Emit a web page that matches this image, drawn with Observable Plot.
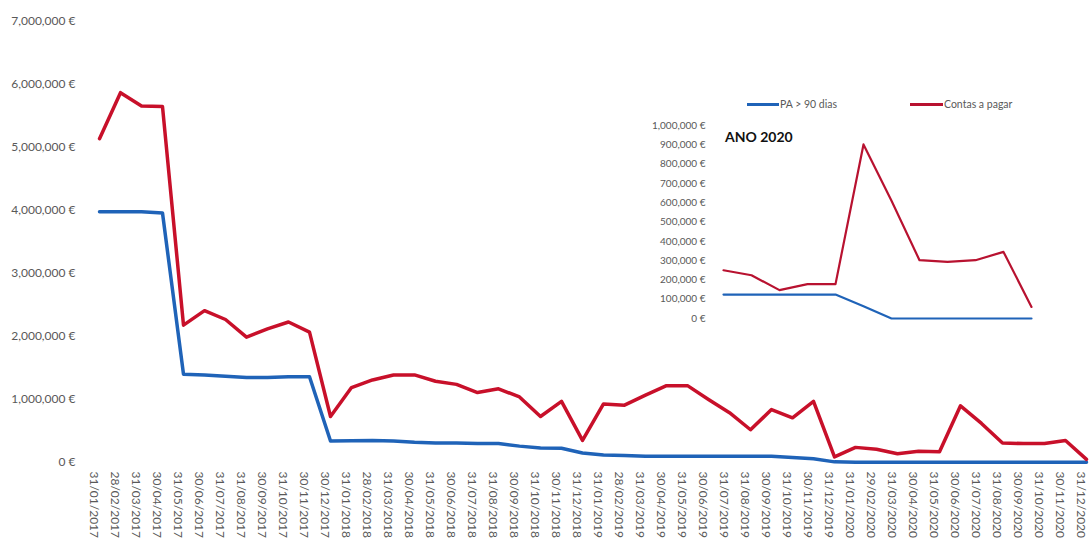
<!DOCTYPE html>
<html>
<head>
<meta charset="utf-8">
<script src="https://cdn.jsdelivr.net/npm/d3@7"></script>
<script src="https://cdn.jsdelivr.net/npm/@observablehq/plot@0.6"></script>
<style>
  html, body { margin: 0; padding: 0; background: #fff; }
  #wrap { position: relative; width: 1091px; height: 540px; overflow: hidden; font-family: Lato, sans-serif; }
  #main { position: absolute; left: 0; top: 0; }
  #inset { position: absolute; left: 640px; top: 80px; }
  .leg { position: absolute; font-size: 10.5px; color: #595959; white-space: nowrap; line-height: 12px; }
  .sw { position: absolute; height: 3px; }
  #title { position: absolute; left: 725px; top: 128px; font-weight: bold; font-size: 14px; color: #111; line-height: 17px; }
</style>
</head>
<body>
<div id="wrap">
  <div id="main"></div>
  <div id="inset"></div>
  <div class="sw" style="left:747px;top:103px;width:32px;background:#1f63b8"></div>
  <div class="leg" style="left:780px;top:98px">PA &gt; 90 dias</div>
  <div class="sw" style="left:910px;top:103px;width:33px;background:#b81230"></div>
  <div class="leg" style="left:944px;top:98px">Contas a pagar</div>
  <div id="title">ANO 2020</div>
</div>
<script>
const dates = [
  "31/01/2017","28/02/2017","31/03/2017","30/04/2017","31/05/2017","30/06/2017",
  "31/07/2017","31/08/2017","30/09/2017","31/10/2017","30/11/2017","30/12/2017",
  "31/01/2018","28/02/2018","31/03/2018","30/04/2018","31/05/2018","30/06/2018",
  "31/07/2018","31/08/2018","30/09/2018","31/10/2018","30/11/2018","31/12/2018",
  "31/01/2019","28/02/2019","31/03/2019","30/04/2019","31/05/2019","30/06/2019",
  "31/07/2019","31/08/2019","30/09/2019","31/10/2019","30/11/2019","31/12/2019",
  "31/01/2020","29/02/2020","31/03/2020","30/04/2020","31/05/2020","30/06/2020",
  "31/07/2020","31/08/2020","30/09/2020","31/10/2020","30/11/2020","31/12/2020"
];
const seriesNames = ["PA > 90 dias", "Contas a pagar"];
const paMais90 = [
  3980000,3980000,3980000,3960000,1400000,1390000,1370000,1350000,1350000,1360000,1360000,340000,
  345000,350000,340000,320000,310000,310000,300000,300000,260000,230000,225000,150000,
  120000,110000,100000,100000,100000,100000,100000,100000,100000,80000,60000,10000,
  5000,5000,5000,5000,5000,5000,5000,5000,5000,5000,5000,5000
];
const contasPagar = [
  5140000,5870000,5660000,5650000,2180000,2410000,2270000,1990000,2120000,2230000,2070000,730000,
  1190000,1310000,1390000,1390000,1290000,1240000,1110000,1170000,1040000,730000,970000,350000,
  930000,910000,1070000,1220000,1220000,1000000,790000,520000,840000,710000,970000,90000,
  240000,210000,140000,180000,170000,900000,620000,310000,300000,300000,350000,50000
];
const yTicks = [0,1000000,2000000,3000000,4000000,5000000,6000000,7000000];

const insetMonths = ["Jan","Fev","Mar","Abr","Mai","Jun","Jul","Ago","Set","Out","Nov","Dez"];
const insetPA = [124000,124000,124000,124000,124000,64000,0,0,0,0,0,0];
const insetContas = [250000,224000,147000,178000,178000,902000,610000,302000,293000,302000,345000,60000];
const insetTicks = [0,100000,200000,300000,400000,500000,600000,700000,800000,900000,1000000];

const eur = d => d3.format(",")(d) + " €";
const blue = "#1f63b8", red = "#c8102a", redInset = "#b81230";

const rows = dates.map((d, i) => ({date: d, pa: paMais90[i], contas: contasPagar[i]}));
const insetRows = insetMonths.map((m, i) => ({m, pa: insetPA[i], contas: insetContas[i]}));

const main = Plot.plot({
  width: 1091, height: 540,
  marginTop: 21, marginBottom: 78, marginLeft: 96, marginRight: 3,
  style: {fontFamily: "Lato, sans-serif", fontSize: "12px", color: "#595959", background: "transparent", overflow: "visible"},
  x: {type: "point", domain: dates, padding: 0, label: null},
  y: {domain: [0, 7000000], label: null},
  marks: [
    Plot.axisY({ticks: yTicks, tickSize: 0, tickPadding: 21, tickFormat: eur, label: null}),
    Plot.axisX({tickSize: 0, tickRotate: 90, tickPadding: 9, label: null, dx: -6}),
    Plot.line(rows, {x: "date", y: "pa", stroke: blue, strokeWidth: 3.5, title: () => seriesNames[0]}),
    Plot.line(rows, {x: "date", y: "contas", stroke: red, strokeWidth: 3.5, title: () => seriesNames[1]})
  ]
});
document.getElementById("main").appendChild(main);

const inset = Plot.plot({
  width: 451, height: 260,
  marginTop: 45, marginBottom: 22, marginLeft: 82, marginRight: 59,
  style: {fontFamily: "Lato, sans-serif", fontSize: "10px", color: "#595959", background: "transparent"},
  x: {type: "point", domain: insetMonths, padding: 0, axis: null},
  y: {domain: [0, 1000000], label: null},
  marks: [
    Plot.axisY({ticks: insetTicks, tickSize: 0, tickPadding: 17, tickFormat: eur, label: null}),
    Plot.line(insetRows, {x: "m", y: "pa", stroke: blue, strokeWidth: 2.2}),
    Plot.line(insetRows, {x: "m", y: "contas", stroke: redInset, strokeWidth: 2.2})
  ]
});
document.getElementById("inset").appendChild(inset);
</script>
</body>
</html>
